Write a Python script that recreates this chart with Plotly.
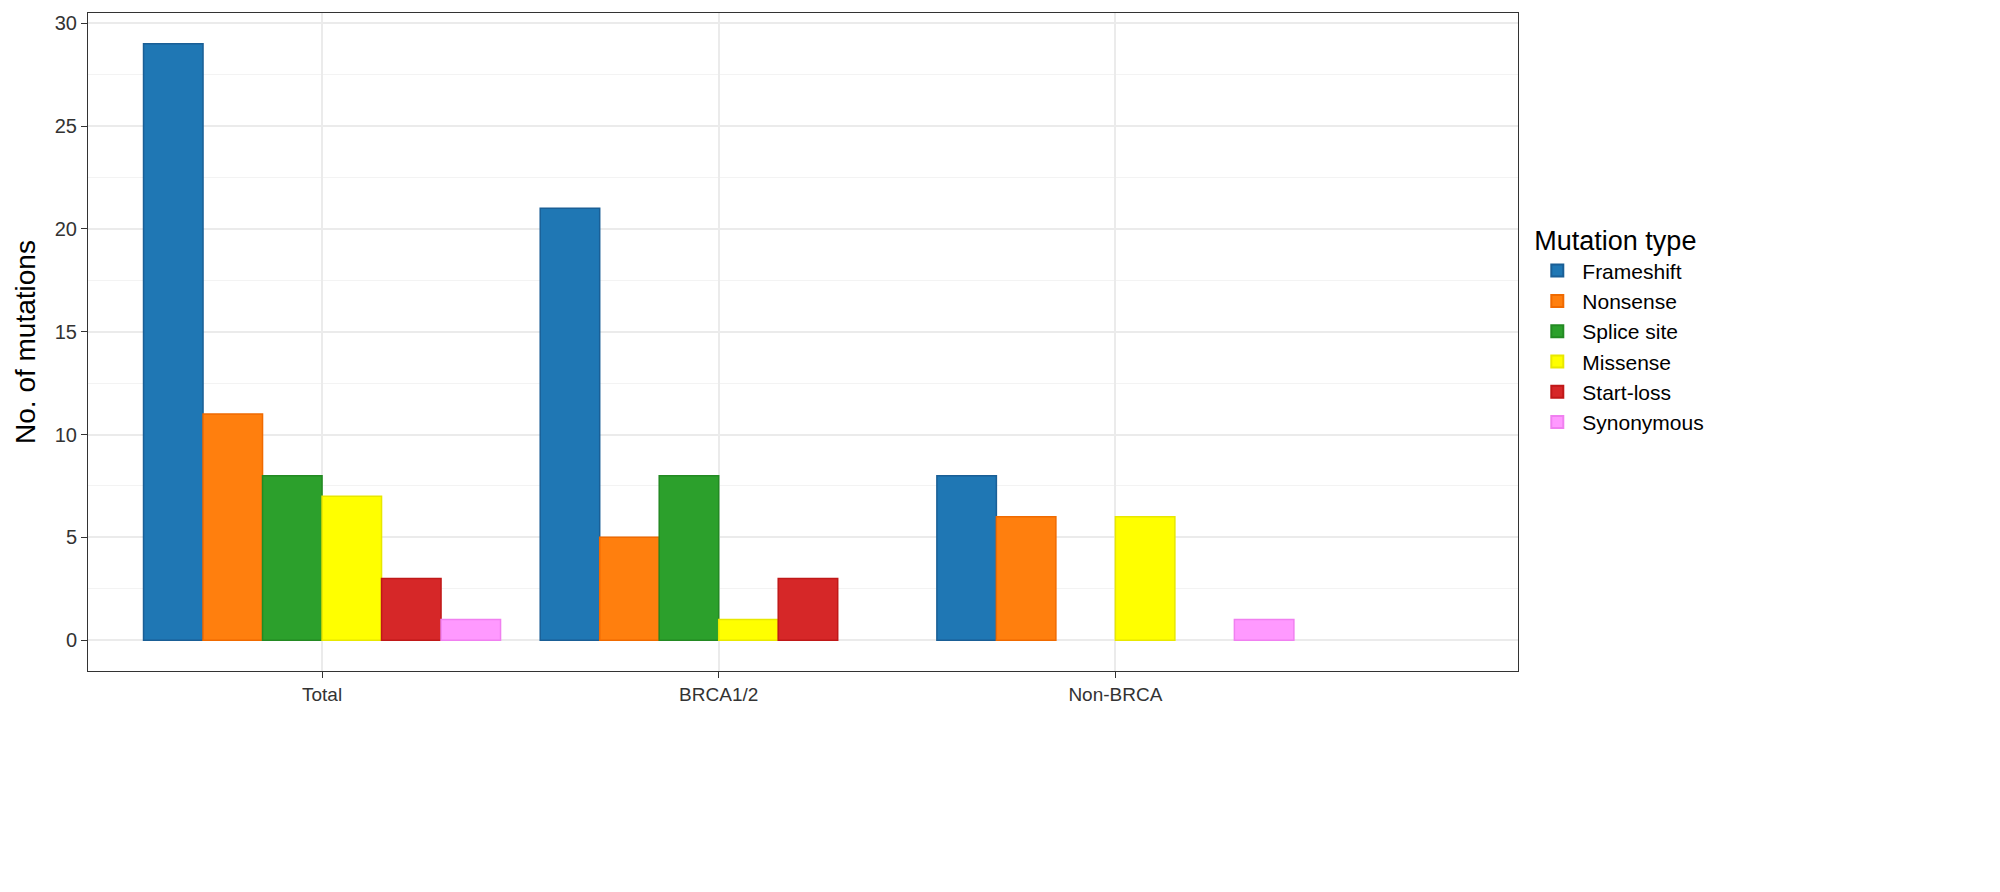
import plotly.graph_objects as go

groups = ['Total', 'BRCA1/2', 'Non-BRCA']
types = ['Frameshift', 'Nonsense', 'Splice site', 'Missense', 'Start-loss', 'Synonymous']
# None = no mutation of that type in the group (no bar drawn)
counts = {
    'Frameshift': [29, 21, 8],
    'Nonsense': [11, 5, 6],
    'Splice site': [8, 8, None],
    'Missense': [7, 1, 6],
    'Start-loss': [3, 3, None],
    'Synonymous': [1, None, 1],
}
fills = ['#1F77B4', '#FF7F0E', '#2CA02C', '#FFFF00', '#D62728', '#FF99FF']
edges = ['#1A5F96', '#F06A00', '#238A23', '#E8E800', '#C01818', '#F080F0']

fig = go.Figure()
for t, f, e in zip(types, fills, edges):
    fig.add_trace(go.Bar(x=groups, y=counts[t], name=t,
                         marker=dict(color=f, line=dict(color=e, width=1.5))))

fig.update_layout(
    width=2000, height=892, barmode='group', bargap=0.1, bargroupgap=0,
    plot_bgcolor='white', paper_bgcolor='white',
    margin=dict(l=80, r=490, t=5, b=229),
    font=dict(family='Liberation Sans, Arial', color='#333333', size=19),
    legend=dict(title=dict(text='Mutation type', font=dict(size=27, color='black')),
                font=dict(size=21, color='black'), x=1.01, y=0.52, yanchor='middle',
                itemsizing='constant', itemwidth=40, tracegroupgap=8),
    xaxis=dict(range=[-0.59, 3.015], showgrid=True, gridcolor='#EBEBEB', gridwidth=2,
               ticks='outside', ticklen=6, tickcolor='#333333',
               showline=True, linecolor='#333333', mirror=True,
               tickfont=dict(size=19, color='#333333')),
    yaxis=dict(range=[-1.5, 30.5], tickvals=[0, 5, 10, 15, 20, 25, 30],
               showgrid=True, gridcolor='#EBEBEB', gridwidth=2,
               minor=dict(dtick=2.5, tick0=2.5, showgrid=True, gridcolor='#F3F3F3', gridwidth=1),
               ticks='outside', ticklen=6, tickcolor='#333333', zeroline=False,
               showline=True, linecolor='#333333', mirror=True,
               title=dict(text='No. of mutations', font=dict(size=28, color='black'), standoff=10),
               tickfont=dict(size=20, color='#333333')),
)
fig.write_html("out.html")
